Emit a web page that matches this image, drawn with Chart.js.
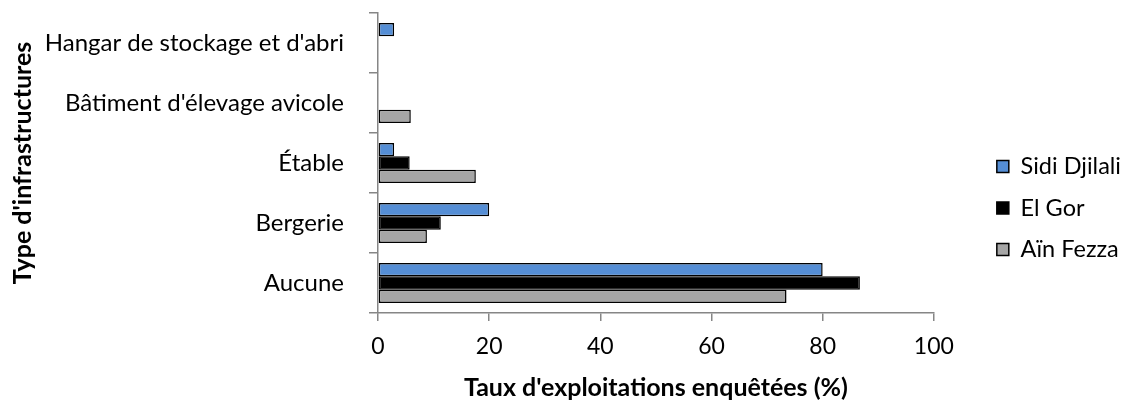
<!DOCTYPE html>
<html>
<head>
<meta charset="utf-8">
<script src="https://cdn.jsdelivr.net/npm/chart.js@4"></script>
<style>
   html, body { margin: 0; padding: 0; background: #fff; }
   #wrap { width: 1125px; height: 403px; }
</style>
</head>
<body>
<div id="wrap"><canvas id="infraChart"></canvas></div>
<script>
const categories = ['Hangar de stockage et d\'abri', 'Bâtiment d\'élevage avicole', 'Étable', 'Bergerie', 'Aucune'];
const sidiDjilali = [2.9, 0, 2.9, 20, 80];
const elGor = [0, 0, 5.7, 11.3, 86.7];
const ainFezza = [0, 5.9, 17.6, 8.8, 73.5];
const xTicks = [0, 20, 40, 60, 80, 100];

document.addEventListener('DOMContentLoaded', initApp);

// push the legend a bit to the right of where Chart.js puts it
const legendShift = {
   id: 'legendShift',
   afterLayout(chart) {
      chart.legend.left += 45;
      chart.legend.right += 45;
   },
};

function initApp() {
   const ctx = document.getElementById('infraChart').getContext('2d');
   const axisGray = '#868686';

   new Chart(ctx, {
      type: 'bar',
      data: {
         labels: categories,
         datasets: [
            { label: 'Sidi Djilali', data: sidiDjilali, backgroundColor: '#558ED5' },
            { label: 'El Gor', data: elGor, backgroundColor: '#000000' },
            { label: 'Aïn Fezza', data: ainFezza, backgroundColor: '#A6A6A6' },
         ],
      },
      options: {
         indexAxis: 'y',
         responsive: true,
         maintainAspectRatio: false,
         animation: false,
         layout: { padding: { top: 13, right: 39 } },
         datasets: {
            bar: {
               borderColor: '#000000',
               borderWidth: 1.5,
               borderSkipped: false,
               categoryPercentage: 0.667,
               barPercentage: 1,
            },
         },
         scales: {
            x: {
               min: 0,
               max: 100,
               afterBuildTicks: scale => { scale.ticks = xTicks.map(v => ({ value: v })); },
               afterFit: scale => { scale.height = 90; },
               grid: { drawOnChartArea: false, drawTicks: true, tickLength: 8, color: axisGray, lineWidth: 1.5 },
               border: { color: axisGray, width: 1.5 },
               ticks: { color: '#000', padding: 12, font: { family: 'Lato', size: 23 } },
               title: {
                  display: true,
                  text: 'Taux d\'exploitations enquêtées (%)',
                  color: '#000',
                  font: { family: 'Lato', size: 25, weight: 'bold' },
                  padding: { top: 0, bottom: 0 },
               },
            },
            y: {
               afterFit: scale => {
                  scale.width = 378;
                  scale.paddingTop = 0;
                  scale.paddingBottom = 0;
               },
               grid: { drawOnChartArea: false, drawTicks: true, tickLength: 9, color: axisGray, lineWidth: 1.5 },
               border: { color: axisGray, width: 1.5 },
               ticks: { color: '#000', padding: 25, font: { family: 'Lato', size: 24 } },
               title: {
                  display: true,
                  text: 'Type d\'infrastructures',
                  color: '#000',
                  font: { family: 'Lato', size: 25, weight: 'bold' },
                  padding: { top: 8, bottom: 0 },
               },
            },
         },
         plugins: {
            legend: {
               position: 'right',
               labels: {
                  color: '#000',
                  boxWidth: 12,
                  boxHeight: 12,
                  padding: 18,
                  font: { family: 'Lato', size: 23.5 },
               },
            },
            tooltip: { enabled: false },
         },
      },
      plugins: [legendShift],
   });
}
</script>
</body>
</html>
